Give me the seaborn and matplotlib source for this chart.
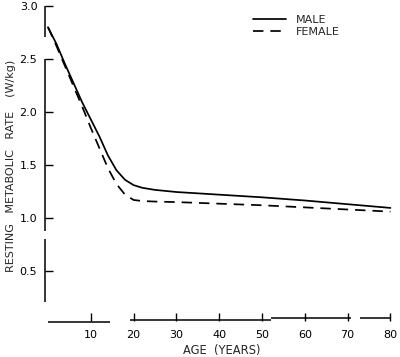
import numpy as np
import pandas as pd
import matplotlib
matplotlib.use("Agg")
import matplotlib.pyplot as plt
import seaborn as sns

# ---- data ----
age = [0, 2, 4, 6, 8, 10, 12, 14, 16, 18, 20, 22, 25, 30, 40, 50, 60, 70, 80]
male = [2.80, 2.64, 2.45, 2.27, 2.09, 1.93, 1.77, 1.59, 1.45, 1.36, 1.31,
        1.285, 1.265, 1.245, 1.22, 1.195, 1.165, 1.13, 1.095]
female = [2.80, 2.62, 2.43, 2.24, 2.05, 1.85, 1.66, 1.47, 1.32, 1.22, 1.17,
          1.16, 1.155, 1.15, 1.135, 1.12, 1.10, 1.08, 1.06]
series_labels = ["MALE", "FEMALE"]
x_ticks = [10, 20, 30, 40, 50, 60, 70, 80]
y_ticks = [0.5, 1.0, 1.5, 2.0, 2.5, 3.0]
x_label = "AGE  (YEARS)"
y_label = "RESTING   METABOLIC   RATE    (W/kg)"

df = pd.concat([
    pd.DataFrame({"age": age, "rate": male, "sex": series_labels[0]}),
    pd.DataFrame({"age": age, "rate": female, "sex": series_labels[1]}),
], ignore_index=True)

sns.set_style("white")
plt.rcParams["font.family"] = ["DejaVu Sans"]

fig = plt.figure(figsize=(4.0, 3.57), dpi=100)
ax = fig.add_axes([0.1125, 0.1014, 0.885, 0.8818])

sns.lineplot(data=df, x="age", y="rate", style="sex",
             dashes={"MALE": "", "FEMALE": (6, 4)},
             color="black", linewidth=1.25, ax=ax, legend=True)

XMIN, XMAX = -0.7, 82
YMIN, YMAX = 0.03, 3.0
ax.set_xlim(XMIN, XMAX)
ax.set_ylim(YMIN, YMAX)

for s in ax.spines.values():
    s.set_visible(False)

# hand-drawn, broken axis lines
axis_kw = dict(color="black", lw=1.1, solid_capstyle="butt", clip_on=False)
for y0, y1 in [(2.71, 3.0), (0.88, 2.5), (0.21, 0.80)]:
    ax.plot([XMIN, XMIN], [y0, y1], **axis_kw)
for x0, x1, yy in [(0, 14.5, 0.02), (19.2, 52, 0.04), (52, 70.8, 0.06), (73, 80, 0.06)]:
    ax.plot([x0, x1], [yy, yy], **axis_kw)

ax.set_xticks(x_ticks)
ax.set_xticklabels([str(t) for t in x_ticks])
ax.set_yticks(y_ticks)
ax.set_yticklabels([f"{t:.1f}" for t in y_ticks])
ax.tick_params(axis="x", direction="in", length=5.5, width=1.0, pad=6.5,
               labelsize=8, colors="black", bottom=True)
ax.tick_params(axis="y", direction="in", length=6, width=1.0, pad=5.5,
               labelsize=8, colors="black", left=True)

ax.set_xlabel(x_label, fontsize=8.3, labelpad=3)
ax.set_ylabel("")
fig.text(11.5 / 400, 1 - 166 / 357, y_label, rotation=90, fontsize=8.0,
         ha="center", va="center")

handles, labels = ax.get_legend_handles_labels()
ax.legend(handles, labels, frameon=False, loc="upper left",
          bbox_to_anchor=(253 / 400, 1 - 15 / 357), bbox_transform=fig.transFigure,
          handlelength=3.0, handletextpad=0.9, borderpad=0, borderaxespad=0,
          labelspacing=0.2, fontsize=8)

fig.savefig("out.png", dpi=100)
